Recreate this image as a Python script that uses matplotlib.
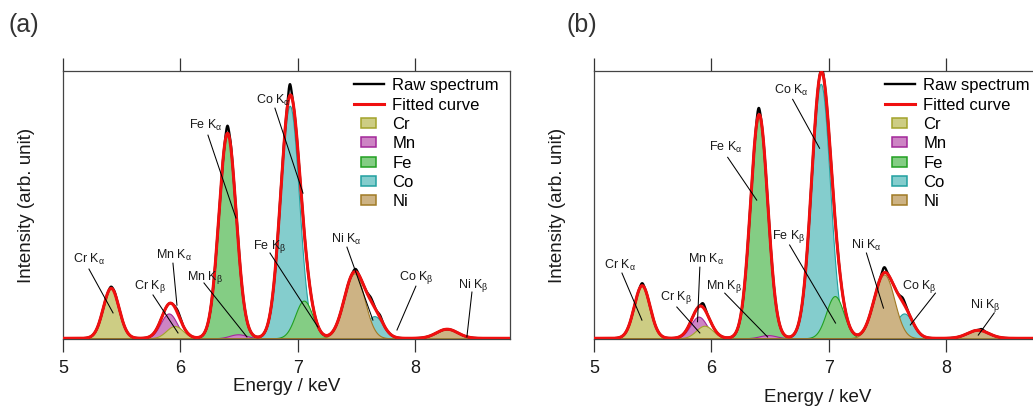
import numpy as np
import matplotlib
matplotlib.use('Agg')
import matplotlib.pyplot as plt
import matplotlib.patches as mpatches
from matplotlib.legend_handler import HandlerPatch

plt.rcParams['font.family'] = ['Liberation Sans', 'DejaVu Sans']
plt.rcParams['mathtext.fontset'] = 'custom'
plt.rcParams['mathtext.rm'] = 'Liberation Sans'
plt.rcParams['mathtext.it'] = 'Liberation Sans:italic'
plt.rcParams['mathtext.bf'] = 'Liberation Sans:bold'

# ---------------- data ----------------
elements = ['Cr', 'Mn', 'Fe', 'Co', 'Ni']
line_labels = ['Cr Kα', 'Cr Kβ', 'Mn Kα', 'Mn Kβ', 'Fe Kα',
               'Fe Kβ', 'Co Kα', 'Co Kβ', 'Ni Kα', 'Ni Kβ']
line_element = ['Cr', 'Cr', 'Mn', 'Mn', 'Fe', 'Fe', 'Co', 'Co', 'Ni', 'Ni']

# panel (a): peak centres (keV), heights (arb.), widths (sigma, keV)
centre_a = [5.41, 5.95, 5.90, 6.49, 6.40, 7.05, 6.93, 7.65, 7.48, 8.27]
height_a = [0.187, 0.046, 0.093, 0.015, 0.760, 0.141, 0.870, 0.083, 0.243, 0.034]
sigma_a = [0.067, 0.071, 0.069, 0.073, 0.073, 0.074, 0.079, 0.074, 0.086, 0.090]
# raw spectrum excess over the fit (energy, excess, width)
raw_e_a = [5.41, 5.44, 5.98, 6.40, 6.43, 6.93, 7.49, 7.62, 7.70]
raw_d_a = [0.006, 0.004, 0.010, 0.028, 0.010, 0.042, 0.010, 0.012, 0.010]
raw_w_a = [0.012, 0.010, 0.020, 0.012, 0.010, 0.012, 0.015, 0.020, 0.015]

# panel (b)
centre_b = [5.41, 5.94, 5.89, 6.48, 6.405, 7.05, 6.93, 7.64, 7.47, 8.27]
height_b = [0.197, 0.047, 0.081, 0.012, 0.830, 0.158, 0.952, 0.093, 0.239, 0.030]
sigma_b = [0.067, 0.071, 0.069, 0.073, 0.073, 0.074, 0.079, 0.074, 0.086, 0.090]
raw_e_b = [5.41, 5.93, 6.40, 6.94, 7.47, 7.63, 8.30]
raw_d_b = [0.009, 0.015, 0.026, 0.012, 0.020, 0.015, 0.006]
raw_w_b = [0.012, 0.015, 0.012, 0.012, 0.015, 0.020, 0.015]

xticks = [5, 6, 7, 8]

# ---------------- styles / layout ----------------
fill_col = {'Cr': '#CDCD84', 'Mn': '#CD84C4', 'Fe': '#84CD84',
            'Co': '#84CDCD', 'Ni': '#CDB384'}
edge_col = {'Cr': '#A3A32B', 'Mn': '#A3279A', 'Fe': '#22A022',
            'Co': '#22A0A0', 'Ni': '#A07A25'}
draw_order = ['Co', 'Fe', 'Mn', 'Cr', 'Ni']

# annotation layout: label, text position, line start, line end (data coords)
ann_a = [
    ('Cr Kα', (5.221, 0.296), (5.221, 0.259), (5.426, 0.095)),
    ('Cr Kβ', (5.740, 0.192), (5.766, 0.162), (5.979, 0.020)),
    ('Mn Kα', (5.945, 0.311), (5.936, 0.281), (5.970, 0.124)),
    ('Mn Kβ', (6.209, 0.229), (6.200, 0.207), (6.566, 0.005)),
    ('Fe Kα', (6.217, 0.797), (6.234, 0.760), (6.472, 0.450)),
    ('Co Kα', (6.787, 0.891), (6.804, 0.861), (7.043, 0.543)),
    ('Fe Kβ', (6.762, 0.345), (6.762, 0.319), (7.170, 0.042)),
    ('Ni Kα', (7.409, 0.371), (7.417, 0.341), (7.638, 0.068)),
    ('Co Kβ', (8.004, 0.229), (8.004, 0.195), (7.843, 0.031)),
    ('Ni Kβ', (8.489, 0.199), (8.481, 0.173), (8.438, 0.005)),
]
ann_b = [
    ('Cr Kα', (5.221, 0.274), (5.238, 0.244), (5.408, 0.068)),
    ('Cr Kβ', (5.697, 0.151), (5.705, 0.117), (5.901, 0.020)),
    ('Mn Kα', (5.952, 0.296), (5.901, 0.266), (5.881, 0.062)),
    ('Mn Kβ', (6.105, 0.195), (6.113, 0.169), (6.478, 0.005)),
    ('Fe Kα', (6.121, 0.715), (6.138, 0.677), (6.385, 0.517)),
    ('Co Kα', (6.682, 0.928), (6.691, 0.894), (6.920, 0.711)),
    ('Fe Kβ', (6.657, 0.382), (6.665, 0.349), (7.056, 0.057)),
    ('Ni Kα', (7.319, 0.349), (7.319, 0.319), (7.464, 0.113)),
    ('Co Kβ', (7.770, 0.195), (7.906, 0.169), (7.693, 0.050)),
    ('Ni Kβ', (8.331, 0.121), (8.407, 0.095), (8.271, 0.012)),
]

W, H = 1033, 408
E = np.linspace(4.9, 8.95, 3000)


def gauss(x, c, h, s):
    return h * np.exp(-0.5 * ((x - c) / s) ** 2)


def mathlabel(lbl):
    name, k = lbl.split(' ')
    return name + ' K$_{\\mathrm{' + k[1] + '}}$'


class SmallRect(HandlerPatch):
    def create_artists(self, legend, orig_handle, xdescent, ydescent,
                       width, height, fontsize, trans):
        w = 0.5 * width
        h = 0.85 * height
        x0 = -xdescent + (width - w) / 2
        y0 = -ydescent + (height - h) / 2
        p = mpatches.Rectangle((x0, y0), w, h,
                               facecolor=orig_handle.get_facecolor(),
                               edgecolor=orig_handle.get_edgecolor(),
                               lw=1.1, transform=trans)
        return [p]


def panel(ax, centre, height, sigma, raw_e, raw_d, raw_w, ann, xlab_y):
    comps = {el: np.zeros_like(E) for el in elements}
    for el, c, h, s in zip(line_element, centre, height, sigma):
        comps[el] += gauss(E, c, h, s)
    fit = sum(comps.values())
    raw = fit.copy()
    for c, d, w in zip(raw_e, raw_d, raw_w):
        raw += gauss(E, c, d, w)

    for i, el in enumerate(draw_order):
        ax.fill_between(E, 0, comps[el], facecolor=fill_col[el],
                        edgecolor=edge_col[el], lw=0.8, zorder=2 + i * 0.1)
    l_raw, = ax.plot(E, raw, color='black', lw=1.7, zorder=5)
    l_fit, = ax.plot(E, fit, color='#F01010', lw=2.2, zorder=6)

    for lbl, tp, p0, p1 in ann:
        ax.text(tp[0], tp[1], mathlabel(lbl), fontsize=9, ha='center',
                va='center', color='#1a1a1a', zorder=9)
        ax.plot([p0[0], p1[0]], [p0[1], p1[1]], color='black', lw=0.75,
                zorder=8)

    ax.set_xlim(5, 8.805)
    ax.set_ylim(-0.0041, 1.0)
    ax.set_xticks(xticks)
    ax.set_xticklabels([str(t) for t in xticks])
    ax.set_yticks([])
    ax.tick_params(axis='x', direction='out', length=9.5, width=0.9,
                   top=True, labeltop=False, pad=5, labelsize=13,
                   color='#333333', labelcolor='#1a1a1a')
    for sp in ax.spines.values():
        sp.set_color('#444444')
        sp.set_linewidth(0.9)
    ax.set_xlabel('Energy / keV', fontsize=13.5, color='#1a1a1a')
    ax.xaxis.set_label_coords(0.5, xlab_y)
    ax.set_ylabel('Intensity (arb. unit)', fontsize=13.5, color='#1a1a1a')
    ax.yaxis.set_label_coords(-0.062, 0.5)

    handles = [l_raw, l_fit] + [mpatches.Patch(facecolor=fill_col[el],
                                               edgecolor=edge_col[el])
                                for el in elements]
    labels = ['Raw spectrum', 'Fitted curve'] + elements
    ax.legend(handles, labels, loc='upper left', bbox_to_anchor=(0.651, 0.973),
              frameon=False, fontsize=12, handlelength=1.8,
              handletextpad=0.5, labelspacing=0.26, borderpad=0,
              borderaxespad=0, handler_map={mpatches.Patch: SmallRect()})


fig = plt.figure(figsize=(W / 100, H / 100), dpi=100)
bottom = 1 - 339.4 / H
hgt = (339.4 - 71) / H
ax_a = fig.add_axes([63 / W, bottom, 447 / W, hgt])
ax_b = fig.add_axes([594 / W, bottom, 447 / W, hgt])

panel(ax_a, centre_a, height_a, sigma_a, raw_e_a, raw_d_a, raw_w_a, ann_a, -0.145)
panel(ax_b, centre_b, height_b, sigma_b, raw_e_b, raw_d_b, raw_w_b, ann_b, -0.185)

fig.text(8 / W, 1 - 25 / H, '(a)', fontsize=18, ha='left', va='center',
         color='#333333')
fig.text(567 / W, 1 - 25 / H, '(b)', fontsize=18, ha='left', va='center',
         color='#333333')

fig.savefig('out.png', dpi=100)
